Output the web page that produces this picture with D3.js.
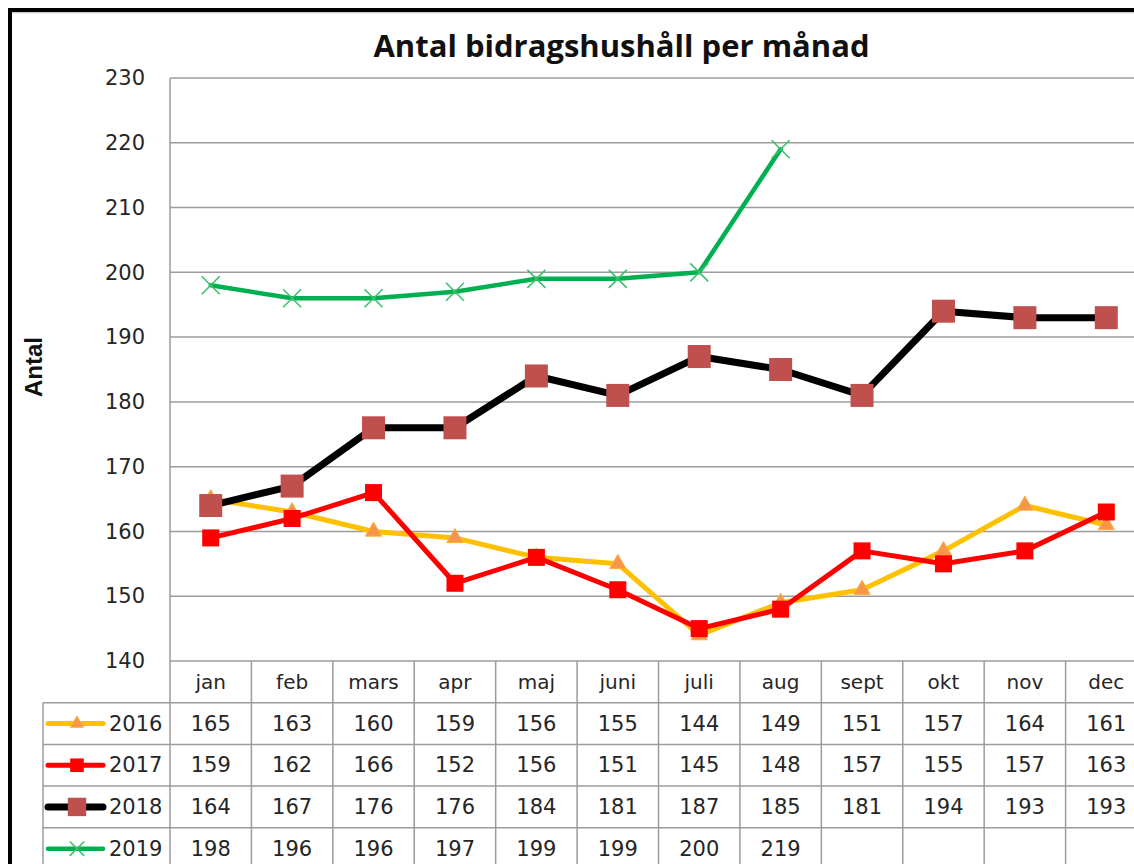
<!DOCTYPE html>
<html>
<head>
<meta charset="utf-8">
<script src="https://cdn.jsdelivr.net/npm/d3@7"></script>
<style>
  html, body { margin: 0; padding: 0; background: #fff; overflow: hidden; }
  svg { display: block; }
</style>
</head>
<body>
<svg id="chart" width="1134" height="864"></svg>
<script>
// Monthly counts of households receiving support, per year
const months = ["jan", "feb", "mars", "apr", "maj", "juni", "juli", "aug", "sept", "okt", "nov", "dec"];
const years = ["2016", "2017", "2018", "2019"];
const values2016 = [165, 163, 160, 159, 156, 155, 144, 149, 151, 157, 164, 161];
const values2017 = [159, 162, 166, 152, 156, 151, 145, 148, 157, 155, 157, 163];
const values2018 = [164, 167, 176, 176, 184, 181, 187, 185, 181, 194, 193, 193];
const values2019 = [198, 196, 196, 197, 199, 199, 200, 219, null, null, null, null];
const yTicks = [140, 150, 160, 170, 180, 190, 200, 210, 220, 230];
const chartTitle = "Antal bidragshushåll per månad";
const yTitle = "Antal";

const seriesValues = [values2016, values2017, values2018, values2019];
const styles = [
  { line: "#FFC000", width: 5, marker: "triangle", fill: "#F79646", size: 16 },
  { line: "#FF0000", width: 5, marker: "square", fill: "#FF0000", size: 17 },
  { line: "#000000", width: 7, marker: "square", fill: "#C0504D", size: 23 },
  { line: "#00B050", width: 4.5, marker: "cross", fill: "#3CC06E", size: 18 }
];
const series = years.map((yr, i) => ({ name: yr, values: seriesValues[i], style: styles[i] }));

const svg = d3.select("#chart");
const font = "'DejaVu Sans', sans-serif";
const textColor = "#262626";
const gridColor = "#9c9c9c";

// Plot frame
const plotLeft = 170, plotRight = 1147, plotTop = 78, plotBottom = 661;
const rowH = 41.7;
const legendLeft = 43;

const x = d3.scaleBand().domain(months).range([plotLeft, plotRight]).paddingInner(0).paddingOuter(0);
const y = d3.scaleLinear().domain([140, 230]).range([plotBottom, plotTop]);

// Outer chart border
svg.append("rect").attr("x", 10).attr("y", 10).attr("width", 1140).attr("height", 880)
  .attr("fill", "#fff").attr("stroke", "#000").attr("stroke-width", 4);
svg.append("line").attr("x1", 12).attr("x2", 1134).attr("y1", 12.8).attr("y2", 12.8)
  .attr("stroke", "#bbb").attr("stroke-width", 1);

// Title
svg.append("text").attr("x", 621.5).attr("y", 57).attr("text-anchor", "middle")
  .attr("font-family", "'Open Sans', sans-serif").attr("font-weight", "bold").attr("font-size", 31)
  .attr("fill", "#111").text(chartTitle);

// Y axis title
svg.append("text").attr("transform", "translate(42,367) rotate(-90)").attr("text-anchor", "middle")
  .attr("font-family", "'Liberation Sans', Arial, sans-serif").attr("font-weight", "bold").attr("font-size", 24)
  .attr("fill", "#111").text(yTitle);

// Horizontal gridlines and y axis
const yAxis = d3.axisLeft(y).tickValues(yTicks).tickSize(0).tickPadding(25);
const yg = svg.append("g").attr("transform", `translate(${plotLeft},0)`).call(yAxis);
yg.select(".domain").remove();
yg.selectAll("text").attr("font-family", font).attr("font-size", 21).attr("fill", textColor);

svg.append("g").selectAll("line").data(yTicks).join("line")
  .attr("x1", plotLeft).attr("x2", 1134).attr("y1", d => y(d)).attr("y2", d => y(d))
  .attr("stroke", gridColor).attr("stroke-width", 1.5);
svg.append("line").attr("x1", plotLeft).attr("x2", plotLeft).attr("y1", plotTop).attr("y2", 864)
  .attr("stroke", gridColor).attr("stroke-width", 1.5);

// Data table grid
const tableTop = plotBottom;
const rowTops = d3.range(6).map(i => tableTop + i * rowH);
const tg = svg.append("g");
tg.selectAll("line.h").data(rowTops.slice(1)).join("line").attr("class", "h")
  .attr("x1", legendLeft).attr("x2", 1134).attr("y1", d => d).attr("y2", d => d)
  .attr("stroke", gridColor).attr("stroke-width", 1.5);
tg.selectAll("line.v").data(months.slice(1)).join("line").attr("class", "v")
  .attr("x1", d => x(d)).attr("x2", d => x(d)).attr("y1", tableTop).attr("y2", 864)
  .attr("stroke", gridColor).attr("stroke-width", 1.5);
tg.append("line").attr("x1", legendLeft).attr("x2", legendLeft).attr("y1", rowTops[1]).attr("y2", 864)
  .attr("stroke", gridColor).attr("stroke-width", 1.5);

// Category labels
tg.selectAll("text.cat").data(months).join("text").attr("class", "cat")
  .attr("x", d => x(d) + x.bandwidth() / 2).attr("y", tableTop + rowH / 2 + 7)
  .attr("text-anchor", "middle").attr("font-family", font).attr("font-size", 20)
  .attr("fill", textColor).text(d => d);

// Marker drawing helper
function drawMarker(g, st) {
  const s = st.size;
  if (st.marker === "triangle") {
    g.append("path").attr("d", d3.symbol(d3.symbolTriangle, s * s * 0.45)())
      .attr("fill", st.fill).attr("stroke", "#FDB040").attr("stroke-width", 1);
  } else if (st.marker === "square") {
    g.append("rect").attr("x", -s / 2).attr("y", -s / 2).attr("width", s).attr("height", s)
      .attr("fill", st.fill);
  } else {
    const h = s / 2;
    g.append("path").attr("d", `M${-h},${-h}L${h},${h}M${-h},${h}L${h},${-h}`)
      .attr("stroke", st.fill).attr("stroke-width", 1.6).attr("fill", "none");
  }
}

// Series rows: legend key, year label, values
series.forEach((s, i) => {
  const rowMid = rowTops[i + 1] + rowH / 2;
  const key = svg.append("g");
  key.append("line").attr("x1", 48).attr("x2", 103).attr("y1", rowMid).attr("y2", rowMid)
    .attr("stroke", s.style.line).attr("stroke-width", s.style.width).attr("stroke-linecap", "round");
  drawMarker(key.append("g").attr("transform", `translate(77,${rowMid})`),
    Object.assign({}, s.style, { size: s.style.size * 0.8 }));
  key.append("text").attr("x", 109).attr("y", rowMid + 7).attr("font-family", font)
    .attr("font-size", 21).attr("fill", textColor).text(s.name);
  svg.append("g").selectAll("text").data(s.values.map((v, j) => ({ v, m: months[j] })).filter(d => d.v != null))
    .join("text").attr("x", d => x(d.m) + x.bandwidth() / 2).attr("y", rowMid + 7)
    .attr("text-anchor", "middle").attr("font-family", font).attr("font-size", 21)
    .attr("fill", textColor).text(d => d.v);
});

// Lines and markers
const line = d3.line().defined(d => d.v != null)
  .x(d => x(d.m) + x.bandwidth() / 2).y(d => y(d.v));
series.forEach(s => {
  const pts = s.values.map((v, j) => ({ v, m: months[j] }));
  svg.append("path").datum(pts).attr("d", line).attr("fill", "none")
    .attr("stroke", s.style.line).attr("stroke-width", s.style.width)
    .attr("stroke-linejoin", "round").attr("stroke-linecap", "round");
  pts.filter(d => d.v != null).forEach(d => {
    drawMarker(svg.append("g").attr("transform", `translate(${x(d.m) + x.bandwidth() / 2},${y(d.v)})`), s.style);
  });
});
</script>
</body>
</html>
